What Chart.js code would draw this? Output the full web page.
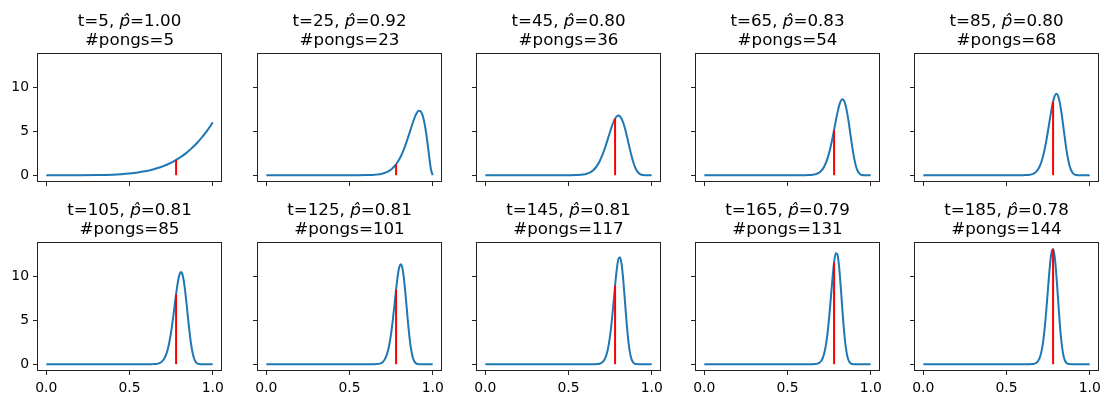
<!DOCTYPE html>
<html>
<head>
<meta charset="utf-8">
<script src="https://cdn.jsdelivr.net/npm/chart.js@4.4.1/dist/chart.umd.min.js"></script>
<style>
  body { margin: 0; background: #fff; }
  #fig { position: relative; width: 1109px; height: 400px; overflow: hidden; background: #fff; }
  .panel { position: absolute; }
  .ttl {
    position: absolute;
    text-align: center;
    font-family: 'DejaVu Sans', sans-serif;
    font-size: 16.7px;
    line-height: 19px;
    color: #000;
    white-space: nowrap;
  }
</style>
</head>
<body>
<div id="fig"></div>
<script>
// where the true rate sits (red marker)
var TRUE_P = 0.78;

var steps = [5, 25, 45, 65, 85, 105, 125, 145, 165, 185];
var pongs = [5, 23, 36, 54, 68, 85, 101, 117, 131, 144];

var xTicks = [0, 0.5, 1];
var yTicks = [0, 5, 10];

// x positions the curves were read at
var xs = [0, 0.1, 0.2, 0.3, 0.4, 0.45, 0.5, 0.55,
    0.60, 0.61, 0.62, 0.63, 0.64, 0.65, 0.66, 0.67, 0.68, 0.69,
    0.70, 0.71, 0.72, 0.73, 0.74, 0.75, 0.76, 0.77, 0.78, 0.79,
    0.80, 0.81, 0.82, 0.83, 0.84, 0.85, 0.86, 0.87, 0.88, 0.89,
    0.90, 0.91, 0.92, 0.93, 0.94, 0.95, 0.96, 0.97, 0.98, 0.99,
    1.00];

var pdf_t5 = [0, 0.0001, 0.0019, 0.0146, 0.0614, 0.111, 0.1875, 0.302,
    0.467, 0.507, 0.550, 0.595, 0.644, 0.696, 0.751, 0.810, 0.872, 0.938,
    1.008, 1.083, 1.161, 1.244, 1.331, 1.424, 1.521, 1.624, 1.732, 1.846,
    1.966, 2.092, 2.224, 2.363, 2.509, 2.662, 2.823, 2.991, 3.166, 3.350,
    3.543, 3.744, 3.954, 4.174, 4.403, 4.643, 4.892, 5.152, 5.424, 5.706,
    6.0];

var pdf_t25 = [0, 0, 0, 0, 0, 0, 0.0002, 0.0017,
    0.010, 0.014, 0.019, 0.026, 0.035, 0.048, 0.064, 0.085, 0.112, 0.147,
    0.192, 0.249, 0.320, 0.409, 0.518, 0.652, 0.815, 1.012, 1.245, 1.520,
    1.842, 2.212, 2.633, 3.102, 3.622, 4.179, 4.764, 5.360, 5.936, 6.469,
    6.917, 7.220, 7.335, 7.201, 6.770, 5.994, 4.881, 3.484, 1.961, 0.619,
    0];

var pdf_t45 = [0, 0, 0, 0, 0, 0, 0.0012, 0.0139,
    0.110, 0.159, 0.226, 0.317, 0.436, 0.591, 0.789, 1.037, 1.339, 1.702,
    2.128, 2.614, 3.152, 3.734, 4.339, 4.943, 5.514, 6.019, 6.419, 6.681,
    6.773, 6.676, 6.383, 5.904, 5.265, 4.510, 3.693, 2.874, 2.110, 1.448,
    0.918, 0.530, 0.272, 0.121, 0.044, 0.0126, 0.0025, 0.0003, 0, 0,
    0];

var pdf_t65 = [0, 0, 0, 0, 0, 0, 0, 0,
    0.0026, 0.0048, 0.0087, 0.0154, 0.0265, 0.045, 0.0748, 0.121, 0.191, 0.297,
    0.451, 0.670, 0.969, 1.368, 1.881, 2.521, 3.299, 4.169, 5.133, 6.144,
    7.082, 7.874, 8.420, 8.640, 8.470, 7.890, 6.940, 5.740, 4.410, 3.116,
    1.997, 1.140, 0.562, 0.231, 0.076, 0.018, 0.003, 0, 0, 0,
    0];

var pdf_t85 = [0, 0, 0, 0, 0, 0, 0, 0,
    0.0039, 0.0078, 0.0151, 0.0284, 0.0521, 0.0926, 0.160, 0.267, 0.434, 0.682,
    1.039, 1.531, 2.183, 3.006, 3.991, 5.104, 6.276, 7.406, 8.364, 9.019,
    9.256, 9.007, 8.275, 7.140, 5.752, 4.294, 2.944, 1.833, 1.023, 0.502,
    0.212, 0.075, 0.0213, 0.0046, 0.0007, 0, 0, 0, 0, 0,
    0];

var pdf_t105 = [0, 0, 0, 0, 0, 0, 0, 0,
    0.0003, 0.0006, 0.0015, 0.0034, 0.0075, 0.0159, 0.0327, 0.0646, 0.1229, 0.2254,
    0.3974, 0.6734, 1.0959, 1.7103, 2.5559, 3.6508, 4.9745, 6.451, 7.941, 9.248,
    10.153, 10.463, 10.069, 8.994, 7.405, 5.569, 3.787, 2.298, 1.2247, 0.5614,
    0.2158, 0.0671, 0.0161, 0.0028, 0.0004, 0, 0, 0, 0, 0,
    0];

var pdf_t125 = [0, 0, 0, 0, 0, 0, 0, 0,
    0, 0.0001, 0.0003, 0.001, 0.0024, 0.0059, 0.0137, 0.0306, 0.0654, 0.1332,
    0.2594, 0.4816, 0.8522, 1.4336, 2.290, 3.466, 4.958, 6.685, 8.468, 10.040,
    11.089, 11.355, 10.711, 9.241, 7.231, 5.076, 3.159, 1.715, 0.7965, 0.3089,
    0.0969, 0.0236, 0.0042, 0.0005, 0, 0, 0, 0, 0, 0,
    0];

var pdf_t145 = [0, 0, 0, 0, 0, 0, 0, 0,
    0, 0, 0.0001, 0.0003, 0.0008, 0.0021, 0.0057, 0.0143, 0.0343, 0.0777,
    0.1671, 0.3399, 0.6538, 1.1858, 2.025, 3.248, 4.878, 6.838, 8.914, 10.756,
    11.953, 12.161, 11.245, 9.371, 6.970, 4.568, 2.600, 1.2625, 0.5113, 0.1678,
    0.0430, 0.0082, 0.0011, 0, 0, 0, 0, 0, 0, 0,
    0];

var pdf_t165 = [0, 0, 0, 0, 0, 0, 0, 0,
    0, 0, 0.0001, 0.0004, 0.0012, 0.0035, 0.0097, 0.0252, 0.0617, 0.1418,
    0.3063, 0.6203, 1.1755, 2.079, 3.4256, 5.239, 7.414, 9.667, 11.562, 12.614,
    12.475, 11.102, 8.813, 6.176, 3.775, 1.9826, 0.8787, 0.3218, 0.0946, 0.0216,
    0.0036, 0.0004, 0, 0, 0, 0, 0, 0, 0, 0,
    0];

var pdf_t185 = [0, 0, 0, 0, 0, 0, 0, 0,
    0, 0, 0.0002, 0.001, 0.0033, 0.0096, 0.0263, 0.0676, 0.1617, 0.3597,
    0.7447, 1.4306, 2.5426, 4.172, 6.299, 8.717, 11.009, 12.631, 13.090, 12.170,
    10.072, 7.357, 4.692, 2.580, 1.2055, 0.4700, 0.1496, 0.0379, 0.0074, 0.001,
    0, 0, 0, 0, 0, 0, 0, 0, 0, 0,
    0];

// height of the red marker in each panel
var redTops = [1.732, 1.245, 6.419, 5.133, 8.364, 7.941, 8.468, 8.914, 11.562, 13.090];

var pdfs = [pdf_t5, pdf_t25, pdf_t45, pdf_t65, pdf_t85,
            pdf_t105, pdf_t125, pdf_t145, pdf_t165, pdf_t185];

// layout (page pixels)
var COL_LEFT = [38, 258, 477, 696, 915];
var ROW_TOP = [54, 243];
var PLOT_W = 183;
var PLOT_H = 127;
// paddings have to beat what chart.js reserves for half labels
var PAD_L = 40, PAD_T = 16, PAD_R = 10, PAD_B = 28;

Chart.defaults.font.family = "'DejaVu Sans', sans-serif";
Chart.defaults.font.size = 13.9;
Chart.defaults.color = '#000';

// matplotlib style box around the axes
var framePlugin = {
    id: 'frame',
    afterDraw: function(chart) {
        var a = chart.chartArea;
        var ctx = chart.ctx;
        ctx.save();
        ctx.strokeStyle = '#222';
        ctx.lineWidth = 1;
        ctx.strokeRect(a.left - 0.5, a.top - 0.5, a.right - a.left + 1, a.bottom - a.top + 1);
        ctx.restore();
    }
};

function makePanel(i) {
    var col = i % 5;
    var row = Math.floor(i / 5);
    var L = COL_LEFT[col];
    var T = ROW_TOP[row];
    var fig = document.getElementById('fig');

    var canvas = document.createElement('canvas');
    canvas.width = PAD_L + PLOT_W + PAD_R;
    canvas.height = PAD_T + PLOT_H + PAD_B;
    canvas.style.width = canvas.width + 'px';
    canvas.style.height = canvas.height + 'px';
    canvas.className = 'panel';
    canvas.style.left = (L - PAD_L) + 'px';
    canvas.style.top = (T - PAD_T) + 'px';
    fig.appendChild(canvas);

    var title = document.createElement('div');
    title.className = 'ttl';
    title.style.left = L + 'px';
    title.style.width = PLOT_W + 'px';
    title.style.top = (T - 43.3) + 'px';
    title.innerHTML = 't=' + steps[i] + ', <i>p&#770;</i>=' + (pongs[i] / steps[i]).toFixed(2) +
        '<br>#pongs=' + pongs[i];
    fig.appendChild(title);

    var curve = xs.map(function(x, j) { return { x: x, y: pdfs[i][j] }; });

    new Chart(canvas, {
        type: 'line',
        data: {
            datasets: [{
                data: [{ x: TRUE_P, y: 0 }, { x: TRUE_P, y: redTops[i] }],
                borderColor: '#ff0000',
                borderWidth: 2,
                pointRadius: 0,
                order: 0
            }, {
                data: curve,
                borderColor: '#1f77b4',
                borderWidth: 2,
                borderJoinStyle: 'round',
                pointRadius: 0,
                cubicInterpolationMode: 'monotone',
                order: 1
            }]
        },
        options: {
            responsive: false,
            animation: false,
            events: [],
            devicePixelRatio: 1,
            layout: { padding: { top: PAD_T, right: PAD_R, left: 0, bottom: 0 } },
            plugins: { legend: { display: false }, tooltip: { enabled: false } },
            scales: {
                x: {
                    type: 'linear',
                    min: -0.05,
                    max: 1.05,
                    afterBuildTicks: function(s) { s.ticks = xTicks.map(function(v) { return { value: v }; }); },
                    afterFit: function(s) { s.height = PAD_B; },
                    grid: { drawOnChartArea: false, tickLength: 5, tickColor: '#222', tickWidth: 1 },
                    border: { display: false },
                    ticks: {
                        padding: 5,
                        maxRotation: 0,
                        autoSkip: false,
                        callback: function(v) { return row === 1 ? v.toFixed(1) : ''; }
                    }
                },
                y: {
                    type: 'linear',
                    min: -0.66,
                    max: 13.77,
                    afterBuildTicks: function(s) { s.ticks = yTicks.map(function(v) { return { value: v }; }); },
                    afterFit: function(s) { s.width = PAD_L; },
                    grid: { drawOnChartArea: false, tickLength: 5, tickColor: '#222', tickWidth: 1 },
                    border: { display: false },
                    ticks: {
                        padding: 4,
                        autoSkip: false,
                        callback: function(v) { return col === 0 ? String(v) : ''; }
                    }
                }
            }
        },
        plugins: [framePlugin]
    });
}

for (var i = 0; i < steps.length; i++) {
    makePanel(i);
}
</script>
</body>
</html>
